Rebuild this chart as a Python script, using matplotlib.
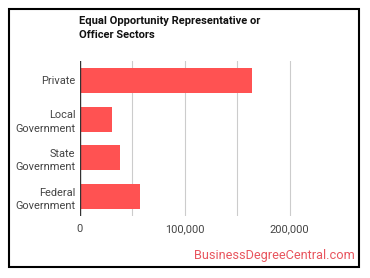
import matplotlib.pyplot as plt
from matplotlib.patches import Rectangle
from matplotlib.ticker import FuncFormatter

sectors = ["Private", "Local\nGovernment", "State\nGovernment", "Federal\nGovernment"]
employment = [164300, 31200, 38900, 57900]
ticks = [0, 100000, 200000]

plt.rcParams['font.family'] = ['Roboto', 'DejaVu Sans']

fig = plt.figure(figsize=(3.7, 2.78), dpi=100)
ax = fig.add_axes([79.5 / 370, 62 / 278, 252 / 370, 155 / 278])

y = list(range(len(sectors)))
ax.barh(y, employment, height=0.645, color='#ff5252', zorder=3)
ax.set_ylim(len(sectors) - 0.5, -0.5)
ax.set_xlim(0, 240000)

# gridlines every 50k, labels every 100k
for g in [50000, 100000, 150000, 200000]:
    ax.axvline(g, color='#cccccc', lw=0.8, zorder=1)
ax.axvline(0, color='#333333', lw=1.0, zorder=4)

ax.set_xticks(ticks)
ax.xaxis.set_major_formatter(FuncFormatter(lambda v, p: f"{int(v):,}"))
ax.set_yticks(y)
ax.set_yticklabels(sectors)
ax.tick_params(axis='both', length=0, labelsize=7.9, colors='#444444')
ax.tick_params(axis='x', pad=6)
ax.tick_params(axis='y', pad=3)
for lbl in ax.get_yticklabels():
    lbl.set_multialignment('right')
    lbl.set_linespacing(1.45)
for s in ax.spines.values():
    s.set_visible(False)

fig.text(79 / 370, 1 - 28 / 278, "Equal Opportunity Representative or\nOfficer Sectors",
         fontsize=8, fontweight='bold', color='#111111', va='center', ha='left',
         linespacing=1.45)
fig.text(355 / 370, 1 - 256 / 278, "BusinessDegreeCentral.com", fontsize=9.2,
         color='#e8555e', ha='right', va='center')

fig.patches.append(Rectangle((8.5 / 370, 11.5 / 278), 350.5 / 370, 258 / 278,
                             transform=fig.transFigure, fill=False,
                             edgecolor='black', lw=1.5))

fig.savefig('out.png', dpi=100)
